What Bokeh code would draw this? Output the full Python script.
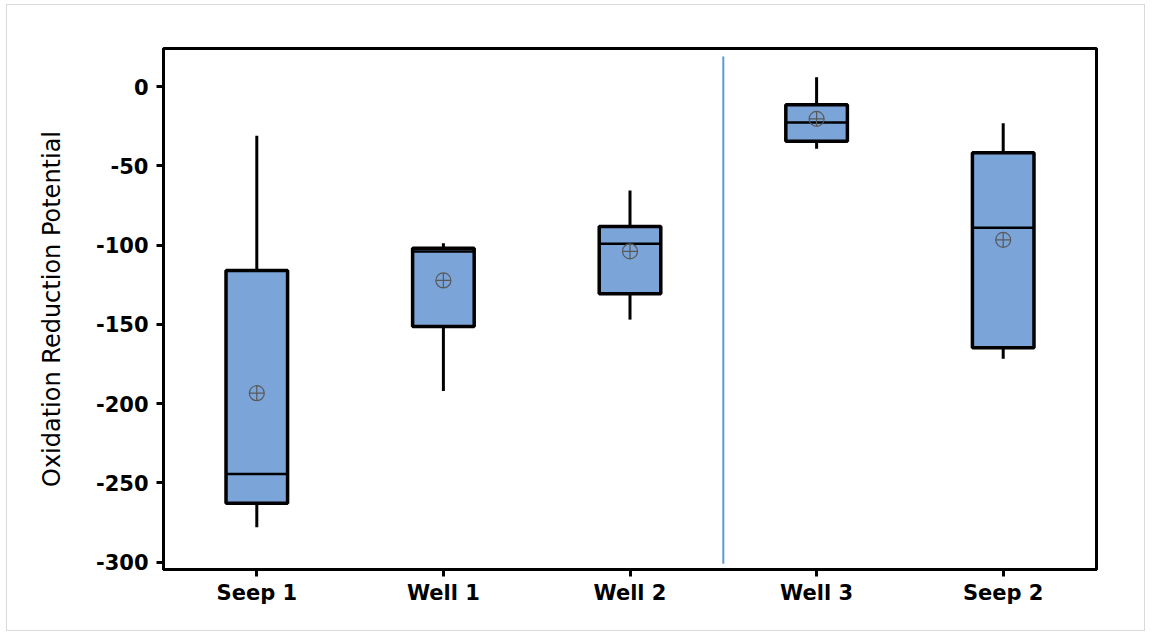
from bokeh.plotting import figure
from bokeh.models import Range1d, FactorRange, FixedTicker, PrintfTickFormatter
from bokeh.embed import file_html
from bokeh.resources import INLINE

# ---- data ----
sites = ["Seep 1", "Well 1", "Well 2", "Well 3", "Seep 2"]
whisker_low = [-278, -192, -147, -39.3, -171.7]
q1 = [-262.8, -151.4, -130.7, -34.5, -164.8]
median = [-244.3, -104, -99.2, -22.7, -89.1]
q3 = [-116, -102, -88.3, -11.4, -41.8]
whisker_high = [-31, -98.8, -65.6, 5.9, -23.1]
means = [-193.4, -122.3, -103.9, -20.4, -96.7]
y_ticks = [-300, -250, -200, -150, -100, -50, 0]
divider_before = "Well 3"

BOX_W = 0.33
FILL = "#7BA5D8"

p = figure(
    width=1139, height=627,
    x_range=FactorRange(*sites, range_padding=0),
    y_range=Range1d(-304.6, 24),
    output_backend="svg", toolbar_location=None,
    min_border_left=156, min_border_right=50,
    min_border_top=43, min_border_bottom=63,
)
p.styles = {"border": "1px solid #d9d9d9", "margin-left": "6px", "margin-top": "4px"}

# whiskers
p.segment(x0=sites, y0=q3, x1=sites, y1=whisker_high, line_color="black", line_width=3)
p.segment(x0=sites, y0=q1, x1=sites, y1=whisker_low, line_color="black", line_width=3)
# boxes
p.vbar(x=sites, width=BOX_W, bottom=q1, top=q3, fill_color=FILL,
       line_color="black", line_width=3.5)
# medians (synthetic categorical coordinates)
centers = [i + 0.5 for i in range(len(sites))]
p.segment(x0=[c - BOX_W / 2 for c in centers], y0=median,
          x1=[c + BOX_W / 2 for c in centers], y1=median,
          line_color="black", line_width=2.5)
# means
p.scatter(x=sites, y=means, marker="circle_cross", size=15, fill_color=None,
          line_color="#595959", line_width=1.2)

# divider line between groups
xd = float(sites.index(divider_before))
p.segment(x0=[xd], y0=[19], x1=[xd], y1=[-301], line_color="#5B9BD5", line_width=2)

# styling
p.xgrid.visible = False
p.ygrid.visible = False
p.outline_line_color = "black"
p.outline_line_width = 3
p.background_fill_color = "white"
p.border_fill_color = "white"

p.yaxis.ticker = FixedTicker(ticks=y_ticks)
p.yaxis.formatter = PrintfTickFormatter(format="%d")
p.yaxis.axis_label = "Oxidation Reduction Potential"
p.yaxis.axis_label_text_font = "DejaVu Sans"
p.yaxis.axis_label_text_font_style = "normal"
p.yaxis.axis_label_text_font_size = "24px"
p.yaxis.axis_label_text_color = "black"
p.yaxis.axis_label_standoff = 27

for ax in (p.xaxis, p.yaxis):
    ax.axis_line_width = 3
    ax.axis_line_color = "black"
    ax.major_tick_line_width = 3
    ax.major_tick_line_color = "black"
    ax.major_tick_out = 7
    ax.major_tick_in = 0
    ax.minor_tick_line_color = None
    ax.major_label_text_font = "DejaVu Sans"
    ax.major_label_text_font_style = "bold"
    ax.major_label_text_font_size = "21px"
    ax.major_label_text_color = "black"

p.yaxis.major_label_standoff = 8
p.xaxis.major_label_standoff = 4

open("out.html", "w").write(file_html(p, INLINE))
